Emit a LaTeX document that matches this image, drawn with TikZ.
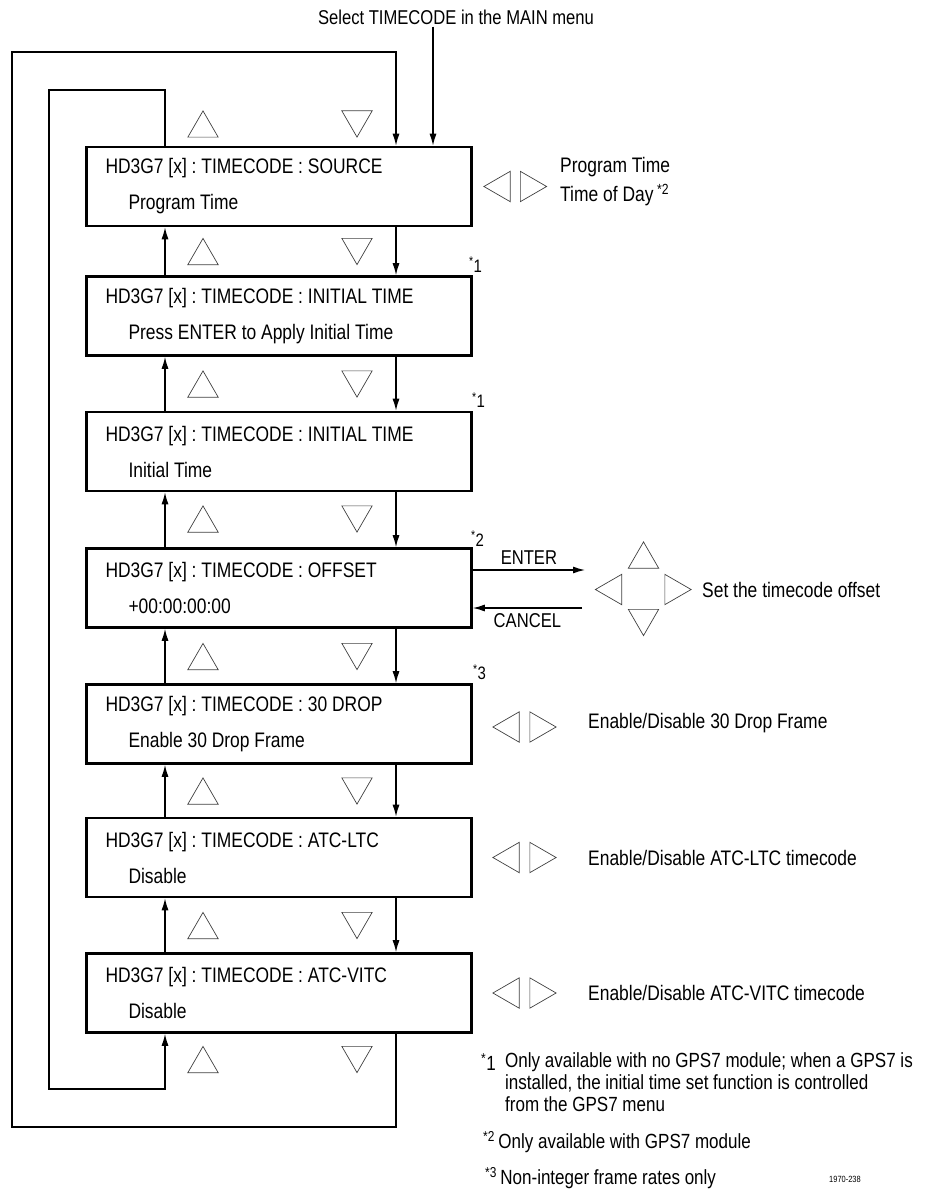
\documentclass[tikz,border=0pt]{standalone}
\usepackage{fontspec}
\setmainfont{Liberation Sans}[FakeStretch=0.83]
\usetikzlibrary{arrows.meta,shapes.geometric}

\begin{document}
\begin{tikzpicture}[
  x=1pt, y=-1pt,
  menu/.style={draw, line width=2.6pt, minimum width=385pt, minimum height=79pt, text width=347pt, inner xsep=19pt, inner ysep=0pt, align=flush left, font=\fontsize{21}{36}\selectfont\frenchspacing},
  sidetext/.style={anchor=west, align=flush left, inner sep=0pt, font=\fontsize{21}{29}\selectfont},
  fntext/.style={align=flush left, inner sep=0pt, font=\fontsize{20.5}{22}\selectfont},
  starnote/.style={inner sep=0pt, font=\fontsize{18}{20}\selectfont},
  tri/.style={regular polygon, regular polygon sides=3, minimum size=35pt, inner sep=0pt, draw=black!75, line width=0.7pt},
  uptri/.style={tri, yshift=-4.4pt},
  dntri/.style={tri, shape border rotate=180, yshift=4.4pt},
  lftri/.style={tri, shape border rotate=90, xshift=4.4pt},
  rttri/.style={tri, shape border rotate=-90, xshift=-4.4pt},
  arrow/.style={-{Latex[length=12pt,width=7pt]}, line width=1.3pt},
  loopline/.style={line width=1.3pt}
]
\useasboundingbox (0,0) rectangle (935,1196);

% menu boxes
\node[menu] (source) at (279,186.5) {HD3G7 [x] : TIMECODE : SOURCE\\\hspace*{23pt}Program Time};
\node[menu] (inittime) at (279,316) {HD3G7 [x] : TIMECODE : INITIAL TIME\\\hspace*{23pt}Press ENTER to Apply Initial Time};
\node[menu] (initval) at (279,451.5) {HD3G7 [x] : TIMECODE : INITIAL TIME\\\hspace*{23pt}Initial Time};
\node[menu] (offset) at (279,588) {HD3G7 [x] : TIMECODE : OFFSET\\\hspace*{23pt}+00:00:00:00};
\node[menu] (dropframe) at (279,724) {HD3G7 [x] : TIMECODE : 30 DROP\\\hspace*{23pt}Enable 30 Drop Frame};
\node[menu] (atcltc) at (279,857.5) {HD3G7 [x] : TIMECODE : ATC-LTC\\\hspace*{23pt}Disable};
\node[menu] (atcvitc) at (279,993) {HD3G7 [x] : TIMECODE : ATC-VITC\\\hspace*{23pt}Disable};

\coordinate (upx) at (165,0);
\coordinate (dnx) at (396,0);
\coordinate (entx) at (433,0);

% up / down keys
\node[uptri] (up0) at (203,124) {};
\node[dntri] (dn0) at (357,124) {};
\node[uptri] (up1) at (203,251.5) {};
\node[dntri] (dn1) at (357,251.5) {};
\node[uptri] (up2) at (203,384) {};
\node[dntri] (dn2) at (357,384) {};
\node[uptri] (up3) at (203,519) {};
\node[dntri] (dn3) at (357,519) {};
\node[uptri] (up4) at (203,656.5) {};
\node[dntri] (dn4) at (357,656.5) {};
\node[uptri] (up5) at (203,791) {};
\node[dntri] (dn5) at (357,791) {};
\node[uptri] (up6) at (203,925.5) {};
\node[dntri] (dn6) at (357,925.5) {};
\node[uptri] (up7) at (203,1059.5) {};
\node[dntri] (dn7) at (357,1059.5) {};

% entry
\node[font=\fontsize{20}{22}\selectfont, inner sep=2pt] (mainmenu) at (456,17) {Select TIMECODE in the MAIN menu};
\draw[arrow] (mainmenu.south -| entx) -- (source.north -| entx);

\draw[arrow] (source.south -| dnx) -- (inittime.north -| dnx);
\draw[arrow] (inittime.south -| dnx) -- (initval.north -| dnx);
\draw[arrow] (initval.south -| dnx) -- (offset.north -| dnx);
\draw[arrow] (offset.south -| dnx) -- (dropframe.north -| dnx);
\draw[arrow] (dropframe.south -| dnx) -- (atcltc.north -| dnx);
\draw[arrow] (atcltc.south -| dnx) -- (atcvitc.north -| dnx);

\draw[arrow] (inittime.north -| upx) -- (source.south -| upx);
\draw[arrow] (initval.north -| upx) -- (inittime.south -| upx);
\draw[arrow] (offset.north -| upx) -- (initval.south -| upx);
\draw[arrow] (dropframe.north -| upx) -- (offset.south -| upx);
\draw[arrow] (atcltc.north -| upx) -- (dropframe.south -| upx);
\draw[arrow] (atcvitc.north -| upx) -- (atcltc.south -| upx);

% wrap-around loops
\coordinate (outerbl) at (12,1127);
\coordinate (outertl) at (12,52);
\coordinate (innerbl) at (49,1089);
\coordinate (innertl) at (49,90);
\draw[arrow] (atcvitc.south -| dnx) |- (outerbl) -- (outertl) -- (outertl -| dnx) -- (source.north -| dnx);
\draw[arrow] (source.north -| upx) |- (innertl) -- (innerbl) -| (atcvitc.south -| upx);

% side options
\node[lftri] (srcl) at (497,186.5) {};
\node[rttri] (srcr) at (533.5,186.5) {};
\node[sidetext] (srcvals) at (560,182) {Program Time\\Time of Day\,\textsuperscript{*2}};

\coordinate (entend) at (585,570);
\coordinate (canstart) at (582,608);
\draw[arrow] (offset.east |- entend) -- (entend) node[midway, above=2pt, font=\fontsize{20}{22}\selectfont] (enterlbl) {ENTER};
\draw[arrow] (canstart) -- (offset.east |- canstart) node[midway, below=2pt, font=\fontsize{20}{22}\selectfont] (cancellbl) {CANCEL};
\node[uptri] (ofsup) at (643.5,555) {};
\node[lftri] (ofsleft) at (608.5,589.5) {};
\node[rttri] (ofsright) at (678,589.5) {};
\node[dntri] (ofsdown) at (643.5,622.5) {};
\node[sidetext] (ofstext) at (702,590) {Set the timecode offset};

\node[lftri] (dfl) at (506,727) {};
\node[rttri] (dfr) at (543,727) {};
\node[sidetext] (dftext) at (588,723) {Enable/Disable 30 Drop Frame};
\node[lftri] (ltcl) at (506,857.5) {};
\node[rttri] (ltcr) at (543,857.5) {};
\node[sidetext] (ltctext) at (588,857.5) {Enable/Disable ATC-LTC timecode};
\node[lftri] (vitcl) at (506,993) {};
\node[rttri] (vitcr) at (543,993) {};
\node[sidetext] (vitctext) at (588,993) {Enable/Disable ATC-VITC timecode};

% footnote marks
\node[starnote, anchor=south west] (n1a) at ([xshift=-4pt,yshift=3pt]inittime.north east) {\textsuperscript{*}1};
\node[starnote, anchor=south west] (n1b) at ([xshift=-1pt,yshift=3pt]initval.north east) {\textsuperscript{*}1};
\node[starnote, anchor=south west] (n2) at ([xshift=-2pt,yshift=1pt]offset.north east) {\textsuperscript{*}2};
\node[starnote, anchor=south west] (n3) at ([xshift=0pt,yshift=3pt]dropframe.north east) {\textsuperscript{*}3};

% footnotes
\node[fntext, anchor=west] (fn1mark) at (481,1062) {\textsuperscript{*}1};
\node[fntext, anchor=north west] (fn1) at (505,1052) {Only available with no GPS7 module; when a GPS7 is\\installed, the initial time set function is controlled\\from the GPS7 menu};
\node[fntext, anchor=west] (fn2) at (483,1142) {\textsuperscript{*2}\,Only available with GPS7 module};
\node[fntext, anchor=west] (fn3) at (485,1178) {\textsuperscript{*3}\,Non-integer frame rates only};
\node[inner sep=0pt, font=\fontsize{9}{10}\selectfont] (figno) at (845,1179) {1970-238};
\end{tikzpicture}
\end{document}
